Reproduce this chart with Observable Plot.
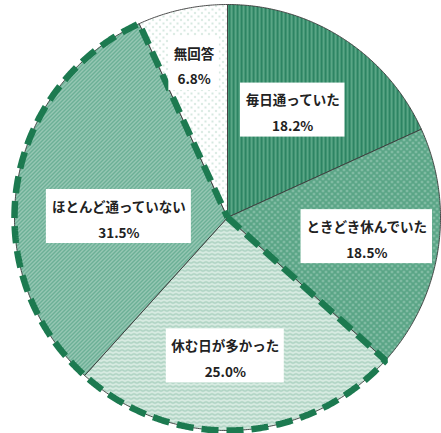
<!DOCTYPE html>
<html><head><meta charset="utf-8">
<script src="https://cdn.jsdelivr.net/npm/d3@7"></script>
<script src="https://cdn.jsdelivr.net/npm/@observablehq/plot@0.6"></script>
<style>body{margin:0;background:#fff;}</style>
</head><body><div id="chart"></div>
<script>
// ---- data ----
const categories = ["毎日通っていた", "ときどき休んでいた", "休む日が多かった", "ほとんど通っていない", "無回答"];
const values = [18.2, 18.5, 25.0, 31.5, 6.8];
const valueLabels = ["18.2%", "18.5%", "25.0%", "31.5%", "6.8%"];
const highlighted = ["休む日が多かった", "ほとんど通っていない"];

// ---- layout ----
const W = 441, H = 433, CX = 227, CY = 217, R = 213;
const labelRadius = [0.59, 0.66, 0.65, 0.51, 0.74];
const labelTurn = [-1.5, -1, 3.8, -8.3, 0];
const FSIZE = 13.5;
const FONT = `bold ${FSIZE}px 'Noto Sans CJK JP', 'Noto Sans', sans-serif`;
const PAD = 5, BOXH = 54;

const arcs = d3.pie().sort(null).value(d => d)(values);
const pt = (a, r) => ({x: r * Math.sin(a), y: -r * Math.cos(a)});
function arcPts(a0, a1) {
  const n = Math.max(2, Math.ceil((a1 - a0) / (Math.PI / 360)));
  return d3.range(n + 1).map(k => pt(a0 + (a1 - a0) * k / n, 1));
}
const slices = arcs.map((a, i) => [pt(0, 0), ...arcPts(a.startAngle, a.endAngle), pt(0, 0)]);

const hIdx = highlighted.map(c => categories.indexOf(c));
const hStart = arcs[d3.min(hIdx)].startAngle, hEnd = arcs[d3.max(hIdx)].endAngle;
const outline = [pt(0, 0), ...arcPts(hStart, hEnd), pt(0, 0)];

const ctx = document.createElement("canvas").getContext("2d");
ctx.font = FONT;
const labels = arcs.map((a, i) => {
  const mid = (a.startAngle + a.endAngle) / 2 + labelTurn[i] * Math.PI / 180;
  const p = pt(mid, labelRadius[i]);
  const tw = Math.max(ctx.measureText(categories[i]).width, ctx.measureText(valueLabels[i]).width);
  const hw = (tw / 2 + PAD) / R, hh = (BOXH / 2) / R;
  return {x: p.x, y: p.y, x1: p.x - hw, x2: p.x + hw, y1: p.y - hh, y2: p.y + hh,
          text: categories[i] + "\n" + valueLabels[i]};
});

const svg = Plot.plot({
  width: W, height: H,
  margin: 0,
  x: {domain: [-CX / R, (W - CX) / R], range: [0, W], axis: null},
  y: {domain: [-CY / R, (H - CY) / R], range: [0, H], axis: null},
  marks: [
    ...slices.map((s, i) => Plot.line(s, {x: "x", y: "y", fill: `url(#p${i})`, stroke: "#3a3a3a", strokeWidth: 0.9, curve: "linear"})),
    Plot.line(outline, {x: "x", y: "y", stroke: "#1c7a50", strokeWidth: 6.5, strokeDasharray: "17,8", strokeLinecap: "butt", strokeLinejoin: "miter"}),
    Plot.rect(labels, {x1: "x1", x2: "x2", y1: "y1", y2: "y2", fill: "white"}),
    Plot.text(labels, {x: "x", y: "y", text: "text", lineHeight: 1.9, fill: "#222", fontWeight: "bold", fontSize: FSIZE,
      fontFamily: "'Noto Sans CJK JP', 'Noto Sans', sans-serif"})
  ]
});

svg.insertAdjacentHTML("afterbegin", `<defs>
<pattern id="p0" width="4" height="4" patternUnits="userSpaceOnUse"><rect width="4" height="4" fill="#2d8463"/><rect x="2.4" width="1.4" height="4" fill="#6cb595"/></pattern>
<pattern id="p1" width="6" height="6" patternUnits="userSpaceOnUse"><rect width="6" height="6" fill="#5aa586"/><circle cx="1.5" cy="1.5" r="1.1" fill="#a3d0bd"/><circle cx="4.5" cy="4.5" r="1.1" fill="#a3d0bd"/></pattern>
<pattern id="p2" width="6" height="4" patternUnits="userSpaceOnUse"><rect width="6" height="4" fill="#d8ebe2"/><path d="M0,2 Q1.5,0.6 3,2 T6,2" stroke="#7fb89f" stroke-width="0.9" fill="none"/></pattern>
<pattern id="p3" width="4" height="4" patternUnits="userSpaceOnUse"><rect width="4" height="4" fill="#6cb096"/><path d="M-1,1 L1,-1 M0,4 L4,0 M3,5 L5,3" stroke="#c0ddd0" stroke-width="1"/></pattern>
<pattern id="p4" width="7" height="7" patternUnits="userSpaceOnUse"><rect width="7" height="7" fill="#fff"/><circle cx="2" cy="2" r="0.7" fill="#8fc1ab"/><circle cx="5.5" cy="5.5" r="0.7" fill="#8fc1ab"/></pattern>
</defs>`);
document.getElementById("chart").appendChild(svg);
</script>
</body></html>
